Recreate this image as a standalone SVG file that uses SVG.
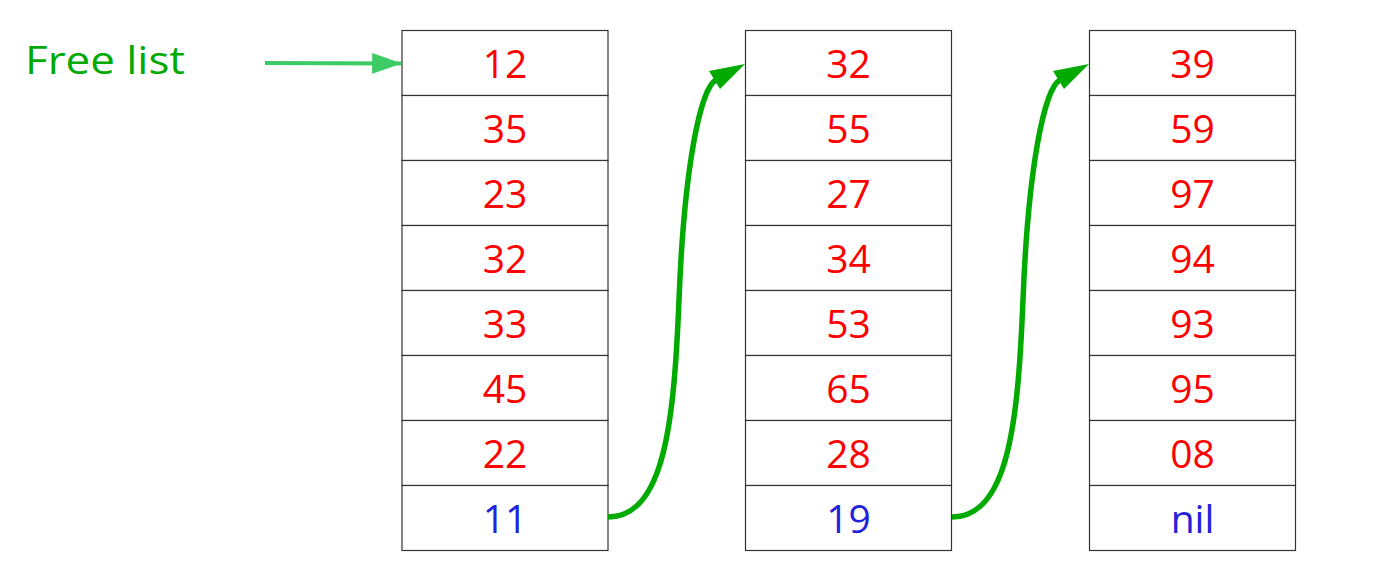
<svg xmlns="http://www.w3.org/2000/svg" width="1382" height="586" viewBox="0 0 1382 586">
<style>
.cell{fill:#fff;stroke:#333;stroke-width:1.2}
.v{font-family:"Open Sans","Noto Sans",sans-serif;font-size:39px;text-anchor:middle;fill:#ff0000}
.p{fill:#2222dd}
.lbl{font-family:"Open Sans","Noto Sans",sans-serif;font-size:39px;fill:#00aa00}
.link{fill:none;stroke:#00aa00;stroke-width:5.5}
.head{fill:#00aa00}
</style>
<defs>
<marker id="ah2" markerUnits="userSpaceOnUse" markerWidth="30" markerHeight="24" viewBox="0 0 26 18" refX="25" refY="9" orient="auto">
<path d="M0,0 L26,9 L0,18 Z" fill="#3ccb64"/>
</marker>
</defs>
<rect width="1382" height="586" fill="#fff"/>
<g id="free-list-label">
<text class="lbl" x="25" y="74" textLength="160" lengthAdjust="spacingAndGlyphs">Free list</text>
</g>
<g id="block1">
<rect class="cell" x="402" y="30.5" width="206" height="65"/>
<rect class="cell" x="402" y="95.5" width="206" height="65"/>
<rect class="cell" x="402" y="160.5" width="206" height="65"/>
<rect class="cell" x="402" y="225.5" width="206" height="65"/>
<rect class="cell" x="402" y="290.5" width="206" height="65"/>
<rect class="cell" x="402" y="355.5" width="206" height="65"/>
<rect class="cell" x="402" y="420.5" width="206" height="65"/>
<rect class="cell" x="402" y="485.5" width="206" height="65"/>
<text class="v" x="505" y="78">12</text>
<text class="v" x="505" y="143">35</text>
<text class="v" x="505" y="208">23</text>
<text class="v" x="505" y="273">32</text>
<text class="v" x="505" y="338">33</text>
<text class="v" x="505" y="403">45</text>
<text class="v" x="505" y="468">22</text>
<text class="v p" x="505" y="533">11</text>
</g>
<g id="block2">
<rect class="cell" x="745.5" y="30.5" width="206" height="65"/>
<rect class="cell" x="745.5" y="95.5" width="206" height="65"/>
<rect class="cell" x="745.5" y="160.5" width="206" height="65"/>
<rect class="cell" x="745.5" y="225.5" width="206" height="65"/>
<rect class="cell" x="745.5" y="290.5" width="206" height="65"/>
<rect class="cell" x="745.5" y="355.5" width="206" height="65"/>
<rect class="cell" x="745.5" y="420.5" width="206" height="65"/>
<rect class="cell" x="745.5" y="485.5" width="206" height="65"/>
<text class="v" x="848.5" y="78">32</text>
<text class="v" x="848.5" y="143">55</text>
<text class="v" x="848.5" y="208">27</text>
<text class="v" x="848.5" y="273">34</text>
<text class="v" x="848.5" y="338">53</text>
<text class="v" x="848.5" y="403">65</text>
<text class="v" x="848.5" y="468">28</text>
<text class="v p" x="848.5" y="533">19</text>
</g>
<g id="block3">
<rect class="cell" x="1089.5" y="30.5" width="206" height="65"/>
<rect class="cell" x="1089.5" y="95.5" width="206" height="65"/>
<rect class="cell" x="1089.5" y="160.5" width="206" height="65"/>
<rect class="cell" x="1089.5" y="225.5" width="206" height="65"/>
<rect class="cell" x="1089.5" y="290.5" width="206" height="65"/>
<rect class="cell" x="1089.5" y="355.5" width="206" height="65"/>
<rect class="cell" x="1089.5" y="420.5" width="206" height="65"/>
<rect class="cell" x="1089.5" y="485.5" width="206" height="65"/>
<text class="v" x="1192.5" y="78">39</text>
<text class="v" x="1192.5" y="143">59</text>
<text class="v" x="1192.5" y="208">97</text>
<text class="v" x="1192.5" y="273">94</text>
<text class="v" x="1192.5" y="338">93</text>
<text class="v" x="1192.5" y="403">95</text>
<text class="v" x="1192.5" y="468">08</text>
<text class="v p" x="1192.5" y="533">nil</text>
</g>
<g id="connectors">
<path d="M265,63 L401,63.5" fill="none" stroke="#3ccb64" stroke-width="4" marker-end="url(#ah2)"/>
<path class="link" d="M608,517 C665,517 674,420 679,300 C684,170 700,88 716,80"/>
<polygon class="head" points="745,64 709,71 720,89"/>
<path class="link" d="M952,517 C1009,517 1018,420 1023,300 C1028,170 1044,88 1060,80"/>
<polygon class="head" points="1089,64 1053,71 1064,89"/>
</g>
</svg>
